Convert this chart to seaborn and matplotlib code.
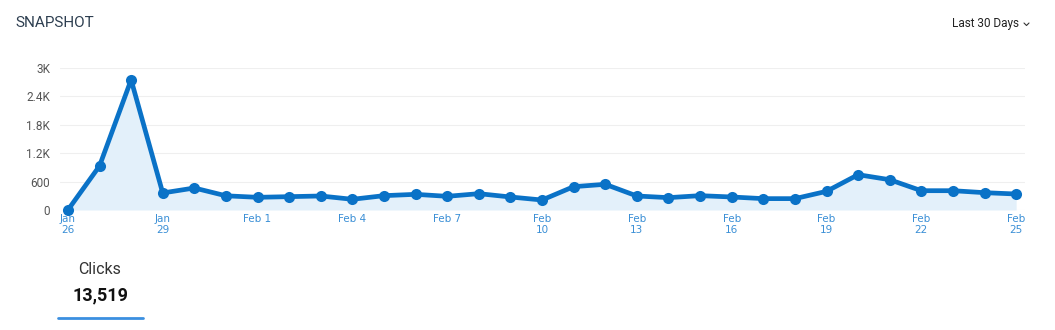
import numpy as np
import pandas as pd
import matplotlib
matplotlib.use("Agg")
import matplotlib.pyplot as plt
import seaborn as sns

# daily clicks, Jan 26 .. Feb 25
days = pd.date_range("2024-01-26", "2024-02-25", freq="D")
clicks = [0, 930, 2750, 360, 465, 300, 268, 282, 296, 226, 303,
          331, 289, 345, 275, 211, 493, 543, 296, 261, 303, 275,
          240, 240, 394, 746, 640, 408, 408, 366, 338]
tick_pos = [0, 3, 6, 9, 12, 15, 18, 21, 24, 27, 30]
tick_labels = ["Jan\n26", "Jan\n29", "Feb 1", "Feb 4", "Feb 7", "Feb\n10",
               "Feb\n13", "Feb\n16", "Feb\n19", "Feb\n22", "Feb\n25"]
y_ticks = [0, 600, 1200, 1800, 2400, 3000]
y_labels = ["0", "600", "1.2K", "1.8K", "2.4K", "3K"]
total_label = "13,519"

line_col = "#0a72c7"
fill_col = "#e3f0fa"

sns.set_theme(style="white")
plt.rcParams["font.family"] = ["DejaVu Sans"]

df = pd.DataFrame({"day": np.arange(len(days)), "clicks": clicks})

fig = plt.figure(figsize=(10.55, 3.3), dpi=100)
ax = fig.add_axes([60 / 1055, 1 - 210 / 330, 965 / 1055, 142 / 330])

ax.fill_between(df["day"], df["clicks"], 0, color=fill_col, lw=0, zorder=1)
sns.lineplot(data=df, x="day", y="clicks", ax=ax, color=line_col, lw=3.4,
             marker="o", markersize=8, markeredgecolor=line_col,
             markeredgewidth=0, zorder=3, clip_on=False)

ax.set_xlim(-0.25, 30.28)
ax.set_ylim(0, 3000)
ax.set_yticks(y_ticks)
ax.set_yticklabels(y_labels, family="Roboto")
ax.set_xticks(tick_pos)
ax.set_xticklabels(tick_labels, linespacing=1.05)
ax.tick_params(axis="y", length=0, pad=7, labelsize=8.5, labelcolor="#555555")
ax.tick_params(axis="x", length=0, pad=3, labelsize=7.5, labelcolor="#3a8fd6")
ax.grid(axis="y", color="#efefef", lw=0.8)
ax.set_axisbelow(True)
for s in ax.spines.values():
    s.set_visible(False)
ax.set_xlabel("")
ax.set_ylabel("")

fig.text(15 / 1055, 1 - 23 / 330, "SNAPSHOT", fontsize=11, color="#2d3e50",
         family="Roboto", va="center", ha="left")
fig.text(1019 / 1055, 1 - 24 / 330, "Last 30 Days", fontsize=8.5, color="#222222",
         family="Roboto", va="center", ha="right")
# small dropdown chevron
fig.add_artist(plt.Line2D([1024 / 1055, 1026.5 / 1055, 1029 / 1055],
                          [1 - 23 / 330, 1 - 25.5 / 330, 1 - 23 / 330],
                          color="#333333", lw=0.8))

fig.text(100 / 1055, 1 - 270 / 330, "Clicks", fontsize=11.5, color="#333333",
         family="Roboto", va="center", ha="center")
fig.text(100 / 1055, 1 - 295 / 330, total_label, fontsize=13, color="#111111",
         family="Roboto", weight="bold", va="center", ha="center")
fig.add_artist(plt.Line2D([58 / 1055, 143 / 1055], [1 - 318 / 330] * 2,
                          color="#3b8fe0", lw=2))

fig.savefig("out.png", dpi=100)
